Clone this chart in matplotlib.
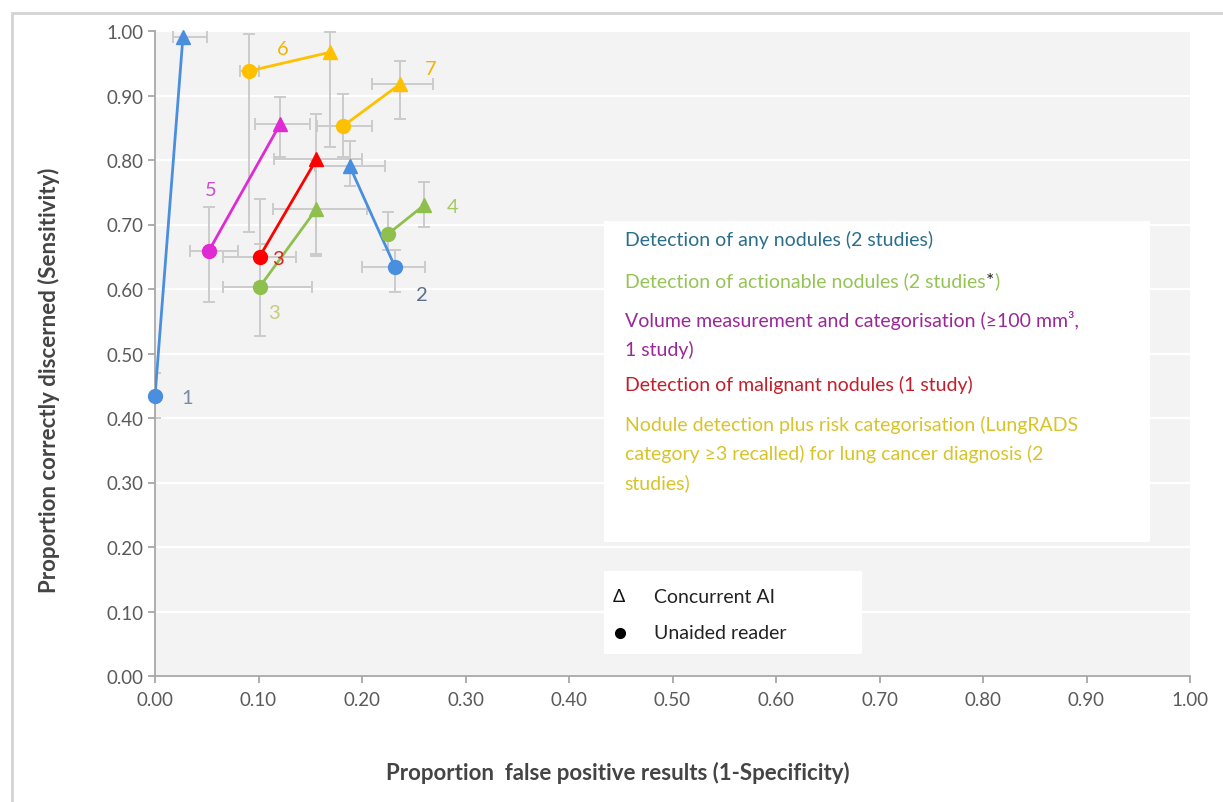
import matplotlib.pyplot as plt
from matplotlib.patches import Rectangle

plt.rcParams['font.family'] = ['Lato', 'DejaVu Sans']

# one entry per study (same order everywhere)
studies = ['1', '2', '3', '4', '3', '5', '6', '7']
colors = ['#4a8ee0', '#4a8ee0', '#8fc04e', '#8fc04e', '#ff0000', '#e02ad4', '#ffc000', '#ffc000']
label_colors = ['#7a8aa6', '#5e6e8c', '#c5cc7a', '#a5c860', '#e02020', '#cc4fcc', '#f2b600', '#f2b600']

fpr_unaided = [0.000, 0.232, 0.101, 0.225, 0.101, 0.052, 0.091, 0.182]
sens_unaided = [0.434, 0.634, 0.603, 0.685, 0.650, 0.659, 0.938, 0.853]
fpr_ai = [0.027, 0.188, 0.156, 0.260, 0.156, 0.121, 0.169, 0.237]
sens_ai = [0.991, 0.791, 0.724, 0.730, 0.801, 0.856, 0.967, 0.918]

# confidence intervals (low, high); None = not shown
fpr_ci_unaided = [None, (0.200, 0.261), (0.066, 0.152), None, (0.066, 0.136), (0.034, 0.080), (0.082, 0.100), (0.157, 0.210)]
sens_ci_unaided = [(0.400, 0.470), (0.595, 0.660), (0.527, 0.670), (0.660, 0.720), (0.610, 0.740), (0.580, 0.727), (0.688, 0.995), (0.805, 0.902)]
fpr_ci_ai = [(0.017, 0.050), (0.155, 0.222), (0.114, 0.205), None, (0.115, 0.200), (0.097, 0.150), None, (0.210, 0.269)]
sens_ci_ai = [None, (0.760, 0.830), (0.654, 0.800), (0.696, 0.766), (0.651, 0.871), (0.805, 0.898), (0.820, 0.998), (0.864, 0.953)]

# label offsets in points relative to the unaided or AI point
label_at = ['u', 'u', 'u', 'a', 'u', 'u', 'u', 'a']
label_off = [(19, -1), (15, -20), (6, -18), (16, -1), (9, -1), (-3, 44), (20, 16), (18, 11)]

legend_lines = [
    ('Detection of any nodules (2 studies)', '#2a6e8e'),
    ('Detection of actionable nodules (2 studies', '#95c455'),
    ('Volume measurement and categorisation (≥100 mm³,\n1 study)', '#9a2898'),
    ('Detection of malignant nodules (1 study)', '#c41e2a'),
    ('Nodule detection plus risk categorisation (LungRADS\ncategory ≥3 recalled) for lung cancer diagnosis (2\nstudies)', '#d8c42a'),
]

fig = plt.figure(figsize=(12.23, 8.03), dpi=100)
ax = fig.add_axes([155 / 1223, 1 - 677 / 803, 1035 / 1223, 645 / 803])
ax.set_facecolor('#f3f3f3')
fig.add_artist(Rectangle((12 / 1223, -0.02), 1.1, 1.02 - 14 / 803, transform=fig.transFigure,
                         fill=False, edgecolor='#d4d4d4', lw=2))

ebk = dict(fmt='none', ecolor='#cbcbcb', elinewidth=1.4, capsize=4, capthick=1.4, zorder=2)
for i in range(len(studies)):
    for x, y, xci, yci in [(fpr_unaided[i], sens_unaided[i], fpr_ci_unaided[i], sens_ci_unaided[i]),
                           (fpr_ai[i], sens_ai[i], fpr_ci_ai[i], sens_ci_ai[i])]:
        if xci:
            ax.errorbar([x], [y], xerr=[[x - xci[0]], [xci[1] - x]], **ebk)
        if yci:
            ax.errorbar([x], [y], yerr=[[y - yci[0]], [yci[1] - y]], **ebk)

for i in range(len(studies)):
    c = colors[i]
    ax.plot([fpr_unaided[i], fpr_ai[i]], [sens_unaided[i], sens_ai[i]], color=c, lw=2, zorder=3)
    ax.plot(fpr_unaided[i], sens_unaided[i], 'o', color=c, ms=10, zorder=4, clip_on=False)
    ax.plot(fpr_ai[i], sens_ai[i], '^', color=c, ms=10, zorder=4, clip_on=False)
    px, py = (fpr_unaided[i], sens_unaided[i]) if label_at[i] == 'u' else (fpr_ai[i], sens_ai[i])
    ax.annotate(studies[i], (px, py), xytext=label_off[i], textcoords='offset points',
                color=label_colors[i], fontsize=14.5, ha='left', va='center', zorder=5)

ax.set_xlim(0, 1)
ax.set_ylim(0, 1)
ticks = [i / 10 for i in range(11)]
ax.set_xticks(ticks)
ax.set_yticks(ticks)
ax.set_xticklabels([f'{t:.2f}' for t in ticks])
ax.set_yticklabels([f'{t:.2f}' for t in ticks])
ax.tick_params(colors='#a0a0a0', labelcolor='#5a5a5a', labelsize=13.5, length=5, width=1.2)
ax.tick_params(axis='x', pad=6)
ax.grid(axis='y', color='white', lw=1.6, zorder=0)
ax.set_axisbelow(True)
for s in ['top', 'right']:
    ax.spines[s].set_visible(False)
for s in ['left', 'bottom']:
    ax.spines[s].set_color('#a8a8a8')
    ax.spines[s].set_linewidth(1.3)

ax.set_xlabel('Proportion  false positive results (1-Specificity)', fontsize=16,
              fontweight='bold', color='#444444')
ax.set_ylabel('Proportion correctly discerned (Sensitivity)', fontsize=16,
              fontweight='bold', color='#444444')
ax.xaxis.set_label_coords(0.447, -0.132)
ax.yaxis.set_label_coords(-0.092, 0.46)

# category legend box
ax.add_patch(Rectangle((0.434, 0.208), 0.527, 0.497, facecolor='white', edgecolor='none', zorder=6))
ys = [0.673, 0.609, 0.549, 0.448, 0.386]
texts = []
for (txt, col), y in zip(legend_lines, ys):
    texts.append(ax.text(0.454, y + 0.018, txt, color=col, fontsize=14, va='top',
                         linespacing=1.72, zorder=7))
star = ax.annotate('*', xy=(1, 0.5), xycoords=texts[1], color='#222222', fontsize=14,
                   va='center', ha='left', zorder=7)
ax.annotate(')', xy=(1, 0.5), xycoords=star, color='#95c455', fontsize=14,
            va='center', ha='left', zorder=7)

# marker legend box
ax.add_patch(Rectangle((0.434, 0.034), 0.249, 0.129, facecolor='white', edgecolor='none', zorder=6))
ax.text(0.4425, 0.124, 'Δ', fontsize=13, color='#111111', va='center', zorder=7)
ax.text(0.482, 0.124, 'Concurrent AI', fontsize=14, color='#222222', va='center', zorder=7)
ax.plot(0.449, 0.067, 'o', color='black', ms=7, zorder=7)
ax.text(0.482, 0.067, 'Unaided reader', fontsize=14, color='#222222', va='center', zorder=7)

fig.savefig('out.png', dpi=100)
